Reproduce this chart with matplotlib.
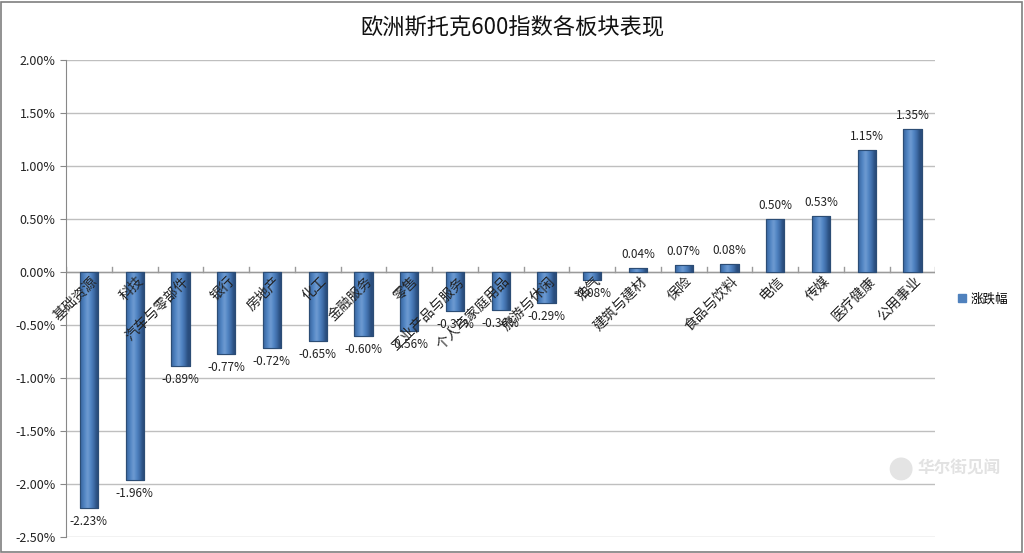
import matplotlib.pyplot as plt
import numpy as np
from matplotlib.patches import Rectangle, Ellipse
from matplotlib.colors import LinearSegmentedColormap

plt.rcParams['font.family'] = ['Noto Sans CJK SC', 'DejaVu Sans']

# 数据：各板块涨跌幅 (%)
sectors = ['基础资源', '科技', '汽车与零部件', '银行', '房地产', '化工', '金融服务',
           '零售', '工业产品与服务', '个人与家庭用品', '旅游与休闲', '油气',
           '建筑与建材', '保险', '食品与饮料', '电信', '传媒', '医疗健康', '公用事业']
changes = [-2.23, -1.96, -0.89, -0.77, -0.72, -0.65, -0.60, -0.56, -0.37, -0.36,
           -0.29, -0.08, 0.04, 0.07, 0.08, 0.50, 0.53, 1.15, 1.35]
y_ticks = [2.0, 1.5, 1.0, 0.5, 0.0, -0.5, -1.0, -1.5, -2.0, -2.5]

fig = plt.figure(figsize=(10.24, 5.53), dpi=100)
ax = fig.add_axes([0.0645, 0.029, 0.849, 0.8625])

x = np.arange(len(sectors))
width = 0.4
barras = ax.bar(x, changes, width=width, color='#4F81BD', edgecolor='#2C4D75',
                linewidth=0.8, zorder=3, label='涨跌幅')

# Sombreado tipo cilindro
cmap_barra = LinearSegmentedColormap.from_list(
    'barra', ['#2A4E7E', '#3F6DA8', '#5286C4', '#6F9BD2'])
t = np.linspace(0, 1, 64)
grad = 1 - np.clip(np.abs(t - 0.4) * 2.0, 0, 1)
grad = np.vstack([grad, grad])
for b in barras:
    x0, w = b.get_x(), b.get_width()
    y0, h = b.get_y(), b.get_height()
    im = ax.imshow(grad, extent=(x0, x0 + w, y0, y0 + h), aspect='auto',
                   cmap=cmap_barra, vmin=0, vmax=1, zorder=3.5,
                   interpolation='bicubic')
    im.set_clip_path(b)
    ax.add_patch(Rectangle((x0, y0), w, h, fill=False, edgecolor='#2C4D75',
                           linewidth=0.8, zorder=4))

# Etiquetas de valor
for xi, v in zip(x, changes):
    if v < 0:
        ax.annotate(f'{v:.2f}%', (xi, v), xytext=(0, -5), textcoords='offset points',
                    ha='center', va='top', fontsize=8.5, color='#222222', zorder=5)
    else:
        ax.annotate(f'{v:.2f}%', (xi, v), xytext=(0, 5), textcoords='offset points',
                    ha='center', va='bottom', fontsize=8.5, color='#222222', zorder=5)

# Etiquetas de categoría giradas junto al eje cero
for xi, name in zip(x, sectors):
    ax.text(xi + 0.25, -0.02, name, rotation=45, ha='right', va='top',
            fontsize=10, color='#222222', zorder=6)

ax.set_xlim(-0.5, len(sectors) - 0.5)
ax.set_ylim(-2.5, 2.0)
ax.set_yticks(y_ticks)
ax.set_yticklabels([f'{t:.2f}%' for t in y_ticks], fontsize=9, color='#222222')
ax.yaxis.grid(True, color='#BFBFBF', linewidth=1, zorder=0)
ax.set_axisbelow(True)
ax.tick_params(axis='y', length=4, color='#888888', direction='out')
ax.set_xticks([])

# Eje cero con marcas entre categorías
ax.axhline(0, color='#9A9A9A', linewidth=1, zorder=2)
for xb in np.arange(-0.5, len(sectors) + 0.5, 1):
    ax.plot([xb, xb], [0, 0.045], color='#9A9A9A', linewidth=1, zorder=2)

for s in ['top', 'right', 'bottom']:
    ax.spines[s].set_visible(False)
ax.spines['left'].set_color('#888888')

fig.text(0.5, 0.95, '欧洲斯托克600指数各板块表现', ha='center', va='center',
         fontsize=16, color='#111111')

fig.legend(handles=[Rectangle((0, 0), 1, 1, color='#4F81BD')], labels=['涨跌幅'],
           loc='center left', bbox_to_anchor=(0.925, 0.46), frameon=False,
           fontsize=9, handlelength=0.6, handleheight=0.6, handletextpad=0.4)

# Marca de agua
fig.add_artist(Ellipse((0.880, 0.152), 0.021, 0.021 * 1024 / 553,
                       transform=fig.transFigure, color='#E4E4E4'))
fig.text(0.937, 0.152, '华尔街见闻', ha='center', va='center', fontsize=12,
         color='#E2E2E2', fontweight='bold')

# Marco de la figura
fig.add_artist(Rectangle((0.001, 0.002), 0.997, 0.995, transform=fig.transFigure,
                         fill=False, edgecolor='#7F7F7F', linewidth=1.2))

fig.savefig('out.png', dpi=100)
